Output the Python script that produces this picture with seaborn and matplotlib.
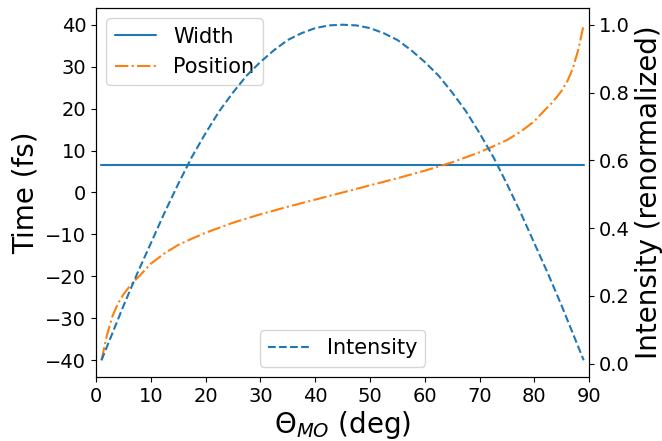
import matplotlib
matplotlib.use("Agg")
import matplotlib.pyplot as plt
import seaborn as sns
import pandas as pd

sns.set_style("ticks", {"axes.edgecolor": "black", "text.color": "black",
                        "xtick.color": "black", "ytick.color": "black",
                        "axes.labelcolor": "black"})

# angle grid for the time curves (deg)
theta_t = [1, 1.5, 2, 3, 4, 5, 6, 7, 8, 10, 12.5, 15, 17.5, 20, 25, 30, 35,
           40, 45, 50, 55, 60, 65, 70, 72.5, 75, 77.5, 80, 82, 83, 84, 85,
           86, 87, 88, 88.5, 89]
# pulse width (fs)
width = [6.5] * len(theta_t)
# pulse position (fs)
position = [-40, -37, -34, -29.5, -26.5, -24.3, -22.6, -21.1, -19.8, -17,
            -14.5, -12.5, -11, -9.6, -7.2, -5.2, -3.4, -1.7, 0,
            1.7, 3.4, 5.2, 7.2, 9.6, 11, 12.5, 14.5, 17, 19.8, 21.1, 22.6,
            24.3, 26.5, 29.5, 34, 37, 40]

# angle grid for the intensity (deg)
theta_i = [1, 2.5, 5, 7.5, 10, 12.5, 15, 17.5, 20, 22.5, 25, 27.5, 30, 32.5,
           35, 37.5, 40, 42.5, 45, 47.5, 50, 52.5, 55, 57.5, 60, 62.5, 65,
           67.5, 70, 72.5, 75, 77.5, 80, 82.5, 85, 87.5, 89]
# intensity (renormalized)
intensity = [0.01, 0.07, 0.17, 0.265, 0.355, 0.445, 0.53, 0.61, 0.68, 0.745,
             0.80, 0.85, 0.89, 0.925, 0.955, 0.975, 0.99, 0.998, 1.0,
             0.998, 0.99, 0.975, 0.955, 0.925, 0.89, 0.85, 0.80, 0.745,
             0.68, 0.61, 0.53, 0.445, 0.355, 0.265, 0.17, 0.07, 0.01]

times = pd.DataFrame({"theta": theta_t, "width": width, "position": position})
inten = pd.DataFrame({"theta": theta_i, "intensity": intensity})

fig, ax = plt.subplots(figsize=(6.62, 4.41), dpi=100)
fig.subplots_adjust(left=0.145, right=0.89, top=0.982, bottom=0.145)

sns.lineplot(data=times, x="theta", y="width", ax=ax, color="#1f77b4",
             label="Width")
sns.lineplot(data=times, x="theta", y="position", ax=ax, color="#ff7f0e",
             ls="-.", label="Position")
ax.set_xlim(0, 90)
ax.set_xticks(range(0, 91, 10))
ax.set_xlabel(r"$\Theta_{MO}$ (deg)", fontsize=20, labelpad=2)
ax.set_ylabel("Time (fs)", fontsize=20)
ax.tick_params(labelsize=14)
ax.legend(loc="upper left", fontsize=15)

ax2 = ax.twinx()
sns.lineplot(data=inten, x="theta", y="intensity", ax=ax2, color="#1f77b4",
             ls="--", label="Intensity")
ax2.set_ylabel("Intensity (renormalized)", fontsize=20)
ax2.tick_params(labelsize=14)
ax2.legend(loc="lower center", fontsize=15)

plt.savefig("out.png", dpi=100)
